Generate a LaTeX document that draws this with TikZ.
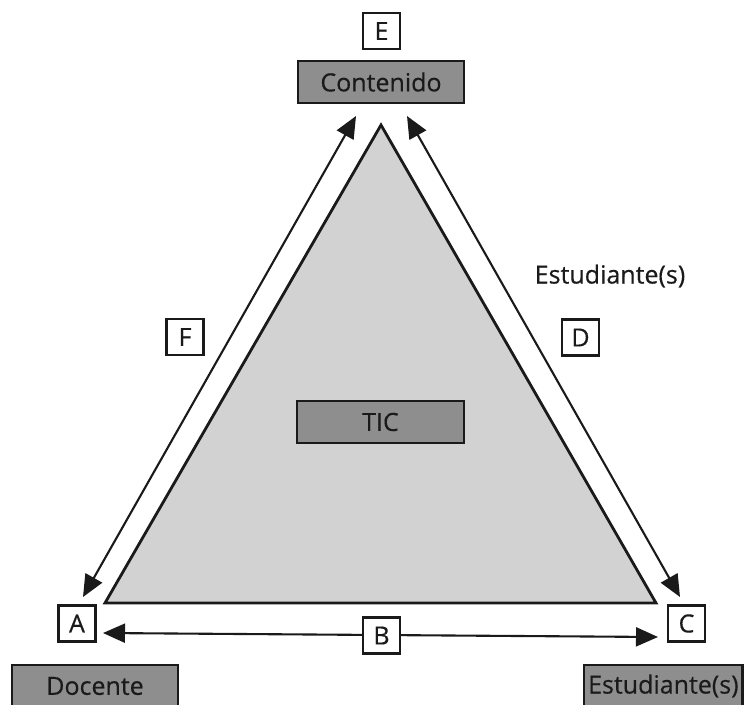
\documentclass[tikz,border=0pt]{standalone}
\usepackage{fontspec}
\setmainfont[FakeBold=0.4]{Open Sans}
\usetikzlibrary{arrows.meta}
\definecolor{trifill}{HTML}{D2D2D2}
\definecolor{boxfill}{HTML}{8E8E8E}
\definecolor{ink}{HTML}{1A1A1A}
\tikzset{
  lbl/.style={draw=ink, line width=2.2pt, fill=white, minimum width=37pt, minimum height=36pt, inner sep=0pt, font=\fontsize{25}{28}\selectfont, text=ink},
  graybox/.style={draw=ink, line width=2.2pt, fill=boxfill, minimum height=42pt, inner sep=0pt, font=\fontsize{25}{28}\selectfont, text=ink},
  twoway/.style={draw=ink, line width=2.1pt, {Triangle[length=22pt,width=19pt]}-{Triangle[length=22pt,width=19pt]}},
  plain/.style={font=\fontsize{25}{28}\selectfont, text=ink, inner sep=0pt}
}
\begin{document}
\begin{tikzpicture}[x=1pt,y=-1pt]
\clip (0,0) rectangle (746,704);
\fill[white] (0,0) rectangle (746,704);
% triangle
\coordinate (top) at (381,125);
\coordinate (bl) at (105,603);
\coordinate (br) at (656,603);
\filldraw[fill=trifill, draw=ink, line width=2.8pt, line join=miter] (top) -- (bl) -- (br) -- cycle;
% boxes
\node[lbl] (E) at (381.5,31) {E};
\node[graybox, minimum width=166pt] (cont) at (381,82) {Contenido};
\node[graybox, minimum width=167pt] (tic) at (380.5,422) {TIC};
\node[lbl] (F) at (185,337) {F};
\node[lbl] (D) at (580.5,337.5) {D};
\node[lbl] (A) at (77,623.5) {A};
\node[lbl] (C) at (686.5,623.5) {C};
\node[graybox, minimum width=166pt] (doc) at (95,686) {Docente};
\node[graybox, anchor=west, inner xsep=4pt] (est) at (583,686) {Estudiante(s)};
\node[plain] (estlbl) at (610,276) {Estudiante(s)};
% arrows
\coordinate (fT) at (356,116);
\coordinate (fB) at (83,597);
\coordinate (dT) at (407,116);
\coordinate (dB) at (680,597);
\coordinate (bL) at (103,633);
\coordinate (bR) at (658,637);
\draw[twoway] (fT) -- (fB);
\draw[twoway] (dT) -- (dB);
\draw[twoway] (bL) -- (bR);
\node[lbl] (B) at (381.5,635.5) {B};
\end{tikzpicture}
\end{document}
